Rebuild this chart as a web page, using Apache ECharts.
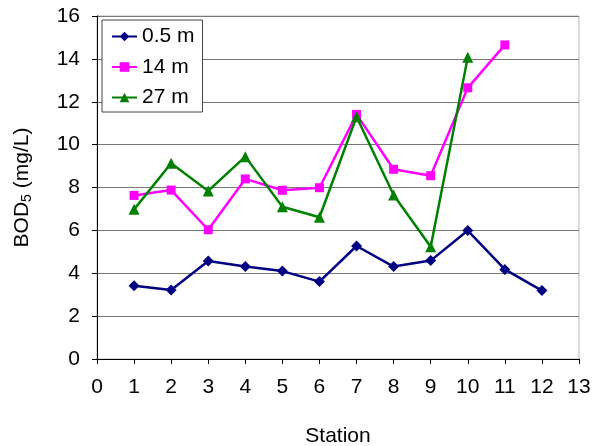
<!DOCTYPE html>
<html><head><meta charset="utf-8">
<script src="https://cdn.jsdelivr.net/npm/echarts@6/dist/echarts.min.js"></script>
<style>html,body{margin:0;padding:0;background:#fff}#c{width:593px;height:446px}</style>
</head><body><div id="c"></div>
<script>
const stations = [1,2,3,4,5,6,7,8,9,10,11,12];
const s05 = [3.42,3.22,4.57,4.32,4.10,3.61,5.27,4.31,4.59,5.99,4.18,3.19];
const s14 = [7.63,7.88,6.03,8.40,7.87,7.99,11.41,8.85,8.55,12.65,14.65];
const s27 = [6.98,9.13,7.84,9.44,7.10,6.61,11.30,7.65,5.24,14.07];
const xTicks = [0,1,2,3,4,5,6,7,8,9,10,11,12,13];
const yTicks = [0,2,4,6,8,10,12,14,16];
const pairs = (arr) => arr.map((v,i)=>[stations[i], v]);
const font = 'Liberation Sans, Arial, sans-serif';
const FS = 21;
const chart = echarts.init(document.getElementById('c'));
chart.setOption({
  animation:false,
  grid:{left:97,right:14,top:16,bottom:87,containLabel:false,outerBoundsMode:'none',show:true,borderColor:'#b8b8b8',borderWidth:1},
  legend:{
    orient:'vertical',left:102,top:20,
    padding:[6,8,4,9],
    itemGap:9.5,itemWidth:25,itemHeight:12,
    borderColor:'#444',borderWidth:1,backgroundColor:'#fff',
    textStyle:{fontFamily:font,fontSize:FS,color:'#000'},
    data:['0.5 m','14 m','27 m']
  },
  xAxis:{
    type:'value',min:xTicks[0],max:xTicks[xTicks.length-1],interval:1,
    name:'Station',nameLocation:'middle',nameGap:67,
    nameTextStyle:{fontFamily:font,fontSize:FS,color:'#000'},
    axisLine:{lineStyle:{color:'#000',width:1}},
    axisTick:{show:true,length:5,lineStyle:{color:'#000'}},
    axisLabel:{fontFamily:font,fontSize:FS,color:'#000',margin:18},
    splitLine:{show:false}
  },
  yAxis:{
    type:'value',min:yTicks[0],max:yTicks[yTicks.length-1],interval:2,
    name:'{a|BOD}{b|5}{a| (mg/L)}',nameLocation:'middle',nameGap:63,nameRotate:90,
    nameTextStyle:{rich:{a:{fontFamily:font,fontSize:FS,color:'#000'},b:{fontFamily:font,fontSize:14,color:'#000',verticalAlign:'bottom',padding:[9,0,0,0]}}},
    axisLine:{show:true,lineStyle:{color:'#000',width:1}},
    axisTick:{show:true,length:5,lineStyle:{color:'#000'}},
    axisLabel:{fontFamily:font,fontSize:FS,color:'#000',margin:17},
    splitLine:{show:true,lineStyle:{color:'#777',width:1.2}}
  },
  series:[
    {name:'0.5 m',type:'line',data:pairs(s05),symbol:'diamond',symbolSize:11,
     lineStyle:{color:'#000080',width:2.5},itemStyle:{color:'#000080'}},
    {name:'14 m',type:'line',data:pairs(s14),symbol:'rect',symbolSize:9,
     lineStyle:{color:'#ff00ff',width:2.5},itemStyle:{color:'#ff00ff'}},
    {name:'27 m',type:'line',data:pairs(s27),symbol:'triangle',symbolSize:11,
     lineStyle:{color:'#008000',width:2.5},itemStyle:{color:'#008000'}}
  ]
});
</script></body></html>
